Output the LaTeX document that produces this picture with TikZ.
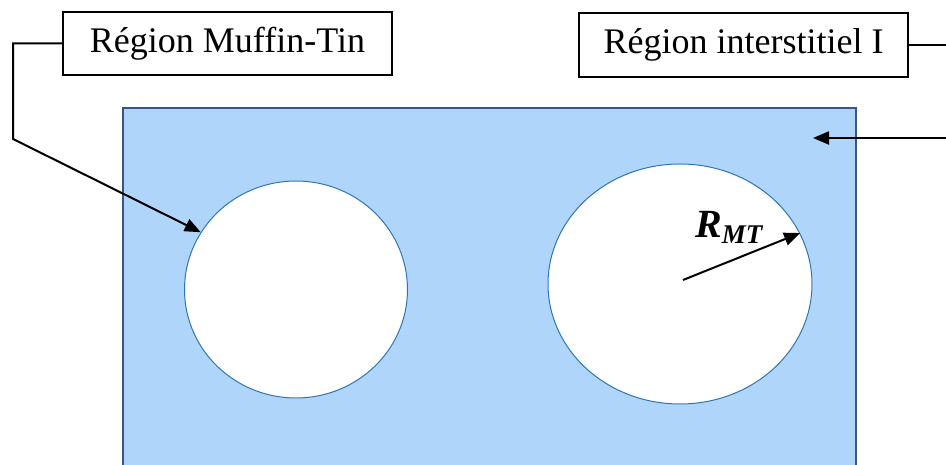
\documentclass[tikz,border=0pt]{standalone}
\usepackage{fontspec}
\setmainfont{Liberation Serif}
\usetikzlibrary{shapes.geometric,arrows.meta}
\definecolor{fillblue}{RGB}{176,213,251}
\definecolor{rectedge}{RGB}{55,85,135}
\definecolor{circedge}{RGB}{46,117,182}
\tikzset{
  labelbox/.style={draw=black, line width=1.4pt, fill=white, minimum width=329pt, minimum height=63pt, inner sep=0pt, font=\fontsize{36}{40}\selectfont},
  sphere/.style={ellipse, draw=circedge, line width=1pt, fill=white, inner sep=0pt},
  conn/.style={line width=2pt, black},
  arr/.style={conn, -{Triangle[length=16pt,width=13pt]}}
}
\begin{document}
\begin{tikzpicture}[x=1pt,y=1pt]
\clip (0,0) rectangle (946,465);
\fill[white] (0,0) rectangle (946,465);
% interstitial region
\filldraw[fill=fillblue, draw=rectedge, line width=1.1pt] (123,-20) rectangle (856,357);
% spheres
\node[sphere, minimum width=223pt, minimum height=217pt] (c1) at (296,175.5) {};
\node[sphere, minimum width=264pt, minimum height=240pt] (c2) at (680,181) {};
% label boxes
\node[labelbox] (b1) at (227.5,421.5) {Région Muffin-Tin};
\node[labelbox, minimum height=64pt] (b2) at (743.5,420) {Région interstitiel I};
% connectors
\coordinate (l1) at (13,421.5);
\coordinate (l2) at (13,326);
\draw[arr] (b1.west) -- (l1) -- (l2) -- (c1.149);
\coordinate (r1) at (965,420);
\coordinate (r2) at (965,327);
\coordinate (rt) at (813,327);
\draw[arr] (b2.east) -- (r1) -- (r2) -- (rt);
% radius
\coordinate (rc) at (683,185);
\draw[arr] (rc) -- (c2.23);
\node[anchor=base west, inner sep=0pt, font=\fontsize{40}{44}\selectfont\bfseries\itshape] (rmt) at (695,227) {R\raisebox{-6pt}{\fontsize{27}{30}\selectfont MT}};
\end{tikzpicture}
\end{document}
